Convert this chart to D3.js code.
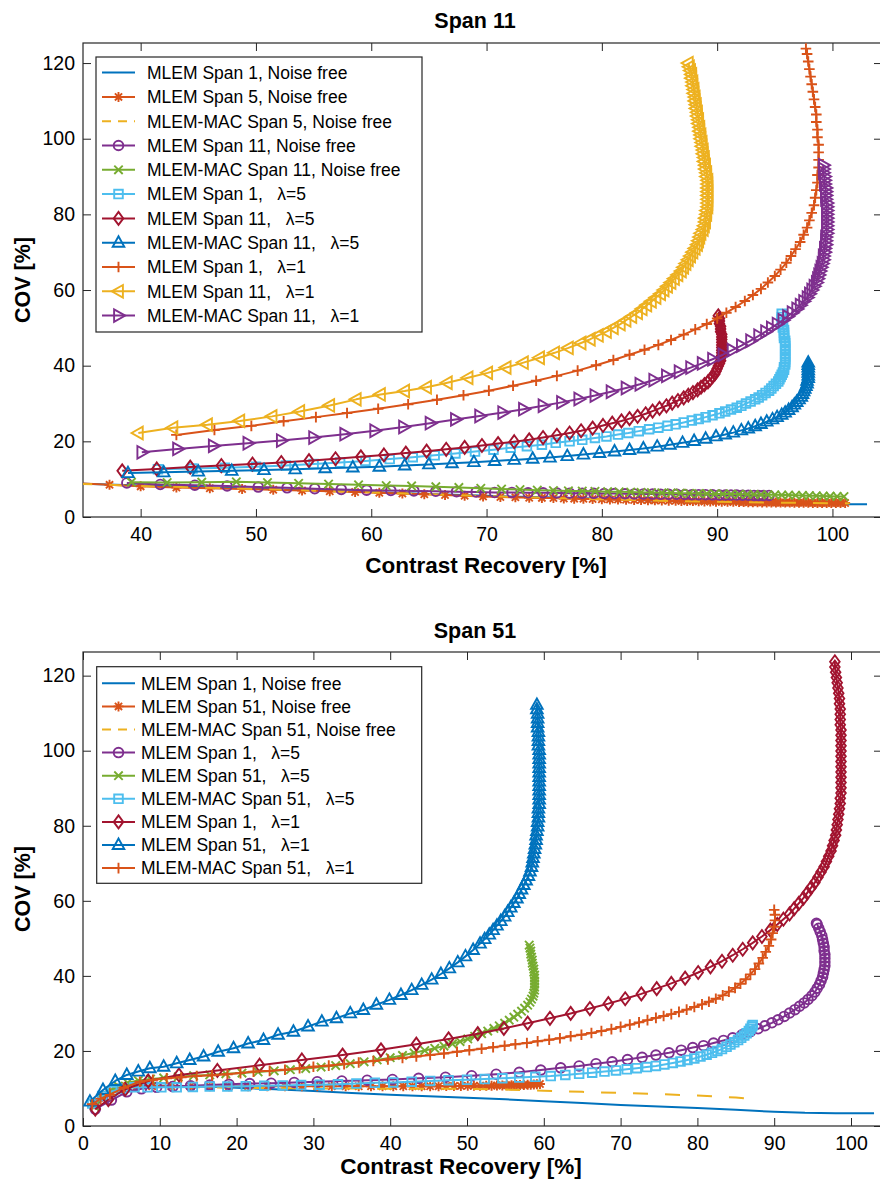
<!DOCTYPE html>
<html>
<head>
<meta charset="utf-8">
<script src="https://cdn.jsdelivr.net/npm/d3@7"></script>
<style>
  body { margin: 0; background: #fff; }
  svg text { font-family: "Liberation Sans", Arial, Helvetica, sans-serif; fill: #000; }
</style>
</head>
<body>
<svg id="chart" width="880" height="1191"></svg>
<script>
// ---------- tick values ----------
const span11XTicks = [40, 50, 60, 70, 80, 90, 100];
const span51XTicks = [0, 10, 20, 30, 40, 50, 60, 70, 80, 90, 100];
const covTicks = [0, 20, 40, 60, 80, 100, 120];

// ---------- legend labels ----------
const span11Labels = [
  "MLEM Span 1, Noise free",
  "MLEM Span 5, Noise free",
  "MLEM-MAC Span 5, Noise free",
  "MLEM Span 11, Noise free",
  "MLEM-MAC Span 11, Noise free",
  "MLEM Span 1,   \u03bb=5",
  "MLEM Span 11,   \u03bb=5",
  "MLEM-MAC Span 11,   \u03bb=5",
  "MLEM Span 1,   \u03bb=1",
  "MLEM Span 11,   \u03bb=1",
  "MLEM-MAC Span 11,   \u03bb=1"
];
const span51Labels = [
  "MLEM Span 1, Noise free",
  "MLEM Span 51, Noise free",
  "MLEM-MAC Span 51, Noise free",
  "MLEM Span 1,   \u03bb=5",
  "MLEM Span 51,   \u03bb=5",
  "MLEM-MAC Span 51,   \u03bb=5",
  "MLEM Span 1,   \u03bb=1",
  "MLEM Span 51,   \u03bb=1",
  "MLEM-MAC Span 51,   \u03bb=1"
];

// ---------- curves: [contrast recovery %, COV %], one point per iteration ----------
const mlemSpan1NoiseFree = [[1.5,5],[2.5,7.2],[3.5,8.7],[4.5,9.7],[5.5,10.3],[7,10.7],[9,10.8],[12,10.7],[16,10.5],[20,10.2],[25,9.8],[30,9.3],[35,8.8],[40,8.3],[45,7.9],[50,7.5],[55,7.1],[60,6.6],[65,6.1],[70,5.6],[75,5.2],[80,4.8],[85,4.3],[90,3.8],[94,3.5],[98,3.4],[103,3.4]];

const s11MlemSpan5NoiseFree = [[34.5,8.9],[37.3,8.5],[40,8.1],[43.1,7.8],[46,7.6],[48.8,7.4],[51.5,7.2],[54,7],[56.4,6.8],[58.6,6.6],[60.7,6.4],[62.7,6.2],[64.6,6],[66.4,5.8],[68.1,5.6],[69.7,5.4],[71.2,5.3],[72.5,5.2],[73.7,5.1],[74.8,5.05],[75.8,5],[76.7,4.9],[77.6,4.85],[78.4,4.8],[79.2,4.75],[80,4.7],[80.7,4.65],[81.4,4.6],[82.1,4.55],[82.8,4.5],[83.4,4.5],[84,4.45],[84.6,4.4],[85.2,4.35],[85.8,4.3],[86.4,4.3],[86.9,4.25],[87.4,4.2],[87.9,4.2],[88.4,4.15],[88.9,4.1],[89.4,4.1],[89.9,4.05],[90.4,4.05],[90.9,4],[91.4,4],[91.9,3.95],[92.3,3.95],[92.7,3.9],[93.1,3.9],[93.5,3.9],[93.9,3.85],[94.3,3.85],[94.7,3.85],[95.1,3.8],[95.5,3.8],[95.9,3.8],[96.3,3.8],[96.7,3.75],[97.1,3.75],[97.5,3.75],[97.9,3.75],[98.3,3.7],[98.7,3.7],[99.1,3.7],[99.5,3.7],[99.9,3.7],[100.3,3.7],[100.7,3.7],[101.1,3.7]];
const s11MacSpan5NoiseFree = [[34.5,8.8],[40,8.2],[45,7.8],[50,7.4],[55,7],[60,6.5],[65,6],[70,5.5],[75,5.1],[80,4.7],[85,4.3],[90,4],[95,3.8],[101.5,3.6]];
const s11MlemSpan11NoiseFree = [[38.8,9],[41.7,8.6],[44.7,8.4],[47.5,8.2],[50.2,7.9],[52.7,7.7],[55.1,7.5],[57.4,7.3],[59.6,7.1],[61.7,7],[63.7,6.9],[65.6,6.8],[67.4,6.7],[69.1,6.6],[70.7,6.5],[72.2,6.5],[73.6,6.4],[74.9,6.4],[76.1,6.35],[77.2,6.3],[78.3,6.3],[79.3,6.25],[80.2,6.2],[81.1,6.2],[82,6.15],[82.8,6.1],[83.6,6.1],[84.4,6.05],[85.1,6],[85.8,6],[86.5,6],[87.2,5.95],[87.8,5.9],[88.4,5.9],[89,5.9],[89.6,5.85],[90.2,5.8],[90.7,5.8],[91.2,5.8],[91.7,5.8],[92.2,5.75],[92.7,5.75],[93.2,5.7],[93.6,5.7],[94,5.7],[94.5,5.7]];
const s11MacSpan11NoiseFree = [[39.2,9.2],[42.3,9.1],[45.3,9.2],[48.3,9.3],[51,9.1],[53.7,8.9],[56.3,8.7],[58.9,8.5],[61.3,8.3],[63.5,8.2],[65.6,8],[67.6,7.8],[69.5,7.6],[71.3,7.4],[72.9,7.25],[74.4,7.1],[75.8,7],[77.1,6.9],[78.3,6.85],[79.4,6.8],[80.5,6.7],[81.5,6.65],[82.5,6.6],[83.4,6.5],[84.3,6.45],[85.2,6.4],[86,6.35],[86.8,6.3],[87.6,6.25],[88.4,6.2],[89.1,6.15],[89.8,6.1],[90.5,6.1],[91.2,6.05],[91.9,6],[92.6,6],[93.2,5.95],[93.8,5.9],[94.4,5.9],[95,5.85],[95.6,5.8],[96.2,5.8],[96.8,5.75],[97.4,5.7],[98,5.65],[98.6,5.6],[99.2,5.55],[99.8,5.5],[100.4,5.45],[101,5.4]];
const s11MlemSpan1Lambda5 = [[41.5,12.6],[44.5,12.8],[47.3,13],[50,13.3],[52.6,13.6],[55,14],[57.3,14.4],[59.5,14.8],[61.6,15.3],[63.6,15.8],[65.5,16.3],[67.3,16.8],[69,17.3],[70.6,17.8],[72.1,18.3],[73.5,18.7],[74.8,19.1],[76,19.6],[77.2,20],[78.3,20.4],[79.4,20.9],[80.4,21.3],[81.4,21.8],[82.3,22.2],[83.2,22.7],[84.1,23.2],[84.9,23.6],[85.7,24.1],[86.4,24.5],[87.1,25],[87.8,25.5],[88.4,25.9],[89,26.4],[89.6,26.9],[90.2,27.4],[90.7,27.9],[91.2,28.4],[91.7,28.9],[92.1,29.4],[92.5,30],[92.9,30.5],[93.3,31.1],[93.6,31.6],[93.9,32.2],[94.2,32.8],[94.5,33.4],[94.7,34],[94.9,34.6],[95.1,35.2],[95.3,35.8],[95.4,36.4],[95.5,37],[95.6,37.6],[95.7,38.2],[95.8,38.9],[95.8,39.6],[95.9,40.3],[95.9,41],[95.9,41.7],[95.9,42.4],[95.9,43.1],[95.9,43.8],[95.9,44.5],[95.9,45.2],[95.9,45.9],[95.9,46.6],[95.8,47.3],[95.8,48],[95.8,48.7],[95.8,49.4],[95.7,50.1],[95.7,50.8],[95.7,51.5],[95.6,52.2],[95.6,52.9],[95.6,53.7]];
const s11MlemSpan11Lambda5 = [[38.4,12.2],[41.4,12.7],[44.3,13.2],[47,13.6],[49.7,14],[52.2,14.4],[54.6,14.9],[56.9,15.4],[59.1,15.9],[61.1,16.4],[63,16.9],[64.8,17.4],[66.5,17.9],[68.1,18.4],[69.6,18.9],[71,19.4],[72.4,19.9],[73.7,20.4],[74.9,21],[76.1,21.6],[77.2,22.2],[78.2,22.8],[79.2,23.5],[80.1,24.2],[80.9,24.8],[81.7,25.4],[82.4,26],[83.1,26.6],[83.8,27.3],[84.4,28],[85,28.7],[85.6,29.4],[86.1,30.1],[86.6,30.8],[87.1,31.5],[87.5,32.2],[87.9,32.9],[88.3,33.6],[88.6,34.3],[88.9,35],[89.2,35.7],[89.4,36.4],[89.6,37.1],[89.8,37.8],[89.9,38.5],[90,39.2],[90.1,39.9],[90.2,40.6],[90.3,41.3],[90.3,42],[90.4,42.7],[90.4,43.4],[90.4,44.1],[90.4,44.8],[90.4,45.5],[90.4,46.2],[90.4,46.9],[90.4,47.6],[90.4,48.3],[90.3,49],[90.3,49.7],[90.3,50.4],[90.2,51.1],[90.2,51.8],[90.2,52.5],[90.1,53.2]];
const s11MacSpan11Lambda5 = [[38.9,11.6],[42,11.8],[45,12],[47.9,12.2],[50.7,12.4],[53.4,12.6],[56,12.9],[58.4,13.1],[60.7,13.3],[62.9,13.6],[65,13.9],[67,14.2],[68.9,14.5],[70.7,14.8],[72.4,15.1],[74,15.4],[75.5,15.7],[77,16.1],[78.4,16.5],[79.8,16.9],[81.1,17.3],[82.4,17.7],[83.6,18.1],[84.8,18.6],[85.9,19.1],[87,19.6],[88,20.1],[89,20.7],[89.9,21.3],[90.7,21.8],[91.4,22.3],[92.1,22.9],[92.7,23.4],[93.3,24],[93.8,24.6],[94.3,25.2],[94.8,25.8],[95.2,26.4],[95.6,27],[95.9,27.6],[96.2,28.3],[96.5,29],[96.7,29.7],[96.9,30.4],[97.1,31.1],[97.3,31.8],[97.4,32.5],[97.5,33.2],[97.6,33.9],[97.7,34.6],[97.8,35.3],[97.8,36],[97.9,36.7],[97.9,37.4],[97.9,38.1],[97.9,38.8],[97.9,39.5],[97.9,40.2],[97.9,40.8]];
const s11MlemSpan1Lambda1 = [[43.1,21.7],[46.4,23],[49.6,24.1],[52.4,25.3],[55.2,26.4],[57.9,27.5],[60.6,28.6],[63.2,29.8],[65.7,31],[68,32.2],[70.2,33.4],[72.3,34.7],[74.3,36],[76.1,37.3],[77.9,38.7],[79.5,40.1],[81,41.5],[82.4,42.9],[83.7,44.2],[84.9,45.5],[86,46.8],[87.1,48.2],[88.1,49.6],[89.1,51],[90,52.5],[90.8,54],[91.6,55.5],[92.4,57.1],[93.1,58.7],[93.8,60.3],[94.4,62],[95,63.7],[95.5,65.4],[96,67.2],[96.4,69],[96.8,70.8],[97.2,72.7],[97.5,74.6],[97.8,76.5],[98,78.4],[98.2,80.4],[98.4,82.4],[98.5,84.4],[98.6,86.4],[98.7,88.4],[98.7,90.4],[98.8,92.4],[98.8,94.4],[98.8,96.4],[98.8,98.4],[98.7,100.4],[98.7,102.4],[98.6,104.4],[98.6,106.4],[98.5,108.4],[98.4,110.4],[98.3,112.4],[98.2,114.4],[98.1,116.4],[98,118.4],[97.9,120.4],[97.8,122.4],[97.7,123.8]];
const s11MlemSpan11Lambda1 = [[39.8,22.2],[42.8,23.6],[45.8,24.4],[48.6,25.4],[51.4,26.6],[53.8,27.9],[56.4,29.5],[58.7,31.1],[60.8,32.4],[62.9,33.3],[64.8,34.3],[66.6,35.5],[68.4,36.8],[70.1,38.1],[71.7,39.5],[73.2,40.8],[74.6,42.1],[75.9,43.4],[77.1,44.7],[78.2,46],[79,47],[79.7,48],[80.4,49],[81,50],[81.6,51],[82.1,52],[82.6,53],[83.1,54],[83.5,55],[83.9,56],[84.3,57],[84.7,58],[85.1,59],[85.4,60],[85.7,61],[86,62],[86.3,63],[86.6,64],[86.9,65],[87.1,66],[87.3,67],[87.5,68],[87.7,69],[87.9,70],[88.1,71],[88.3,72],[88.4,73],[88.5,74],[88.6,75],[88.8,76],[88.9,77],[89,78],[89,79],[89.1,80],[89.1,81],[89.2,82],[89.2,83],[89.2,84],[89.2,85],[89.2,86],[89.2,87],[89.2,88],[89.2,89],[89.1,90],[89.1,91],[89,92],[89,93],[88.9,94],[88.9,95],[88.8,96],[88.8,97],[88.7,98],[88.7,99],[88.6,100],[88.6,101],[88.5,102],[88.5,103],[88.4,104],[88.4,105],[88.3,106],[88.3,107],[88.2,108],[88.2,109],[88.1,110],[88.1,111],[88,112],[88,113],[87.9,114],[87.9,115],[87.8,116],[87.8,117],[87.7,118],[87.6,119],[87.5,120]];
const s11MacSpan11Lambda1 = [[40.1,17.1],[43.2,18],[46.3,18.8],[49.3,19.5],[52.2,20.2],[55,21],[57.7,21.9],[60.3,22.8],[62.8,23.8],[65.1,24.8],[67.3,25.8],[69.4,26.7],[71.4,27.6],[73.2,28.5],[74.9,29.4],[76.5,30.3],[78,31.2],[79.4,32.1],[80.8,33.1],[82.1,34.1],[83.3,35.1],[84.5,36.2],[85.6,37.3],[86.7,38.4],[87.7,39.5],[88.7,40.6],[89.6,41.7],[90.5,42.9],[91.3,44.1],[92.1,45.3],[92.9,46.6],[93.6,47.9],[94.2,49],[94.7,50],[95.2,51],[95.7,52],[96.1,53],[96.5,54],[96.9,55],[97.2,56],[97.5,57],[97.8,58],[98,59],[98.2,60],[98.4,61],[98.6,62],[98.7,63],[98.8,64],[98.9,65],[99,66],[99.1,67],[99.2,68],[99.2,69],[99.3,70],[99.3,71],[99.4,72],[99.4,73],[99.4,74],[99.5,75],[99.5,76],[99.5,77],[99.5,78],[99.5,79],[99.5,80],[99.5,81],[99.5,82],[99.5,83],[99.4,84],[99.4,85],[99.4,86],[99.4,87],[99.3,88],[99.3,89],[99.3,90],[99.2,91],[99.2,92],[99.2,93]];

const s51MlemSpan51NoiseFree = [[1.5,5.8],[2.5,7.8],[3.5,9.2],[4.5,10],[5.5,10.4],[7,10.6],[9,10.6],[11.5,10.6],[14,10.6],[16.5,10.6],[19,10.6],[21.5,10.6],[24,10.6],[26.3,10.6],[28.5,10.6],[30.5,10.6],[32.4,10.6],[34.2,10.6],[35.9,10.6],[37.5,10.6],[39,10.6],[40.4,10.6],[41.7,10.6],[42.9,10.6],[44.1,10.6],[45.2,10.6],[46.3,10.6],[47.3,10.65],[48.3,10.65],[49.2,10.65],[50.1,10.7],[50.9,10.7],[51.7,10.7],[52.5,10.75],[53.2,10.75],[53.9,10.8],[54.6,10.8],[55.2,10.85],[55.8,10.85],[56.4,10.9],[56.9,10.9],[57.4,10.95],[57.9,11],[58.3,11],[58.7,11.05],[59.1,11.1],[59.5,11.2]];
const s51MacSpan51NoiseFree = [[1.5,5.6],[2.5,7.6],[3.5,9],[4.5,9.8],[5.5,10.2],[7,10.4],[10,10.4],[15,10.3],[20,10.2],[25,10.1],[30,10],[35,10],[40,9.9],[45,9.9],[50,9.9],[55,9.7],[60,9.4],[65,9.1],[70,8.8],[75,8.5],[80,8.1],[85,7.6],[87.3,7.2]];
const s51MlemSpan1Lambda5 = [[1.6,4.5],[3.7,6.9],[5.7,9.1],[7.6,9.9],[9.6,10.3],[11.7,10.5],[14,10.7],[16.5,10.9],[19,11.1],[21.7,11.3],[24.5,11.4],[27.5,11.6],[30.5,11.8],[33.7,12],[37,12.2],[40.3,12.4],[43.7,12.7],[47.2,13],[50.6,13.4],[53.8,13.8],[56.8,14.3],[59.6,14.9],[62.2,15.5],[64.6,16],[66.8,16.6],[68.9,17.1],[70.9,17.7],[72.8,18.3],[74.6,18.9],[76.3,19.5],[77.9,20.2],[79.4,20.9],[80.8,21.4],[82.1,22.1],[83.4,22.8],[84.6,23.5],[85.8,24.3],[86.9,25.1],[87.9,25.9],[88.8,26.7],[89.7,27.5],[90.5,28.3],[91.3,29.2],[92,30.1],[92.7,31],[93.3,31.9],[93.9,32.8],[94.4,33.7],[94.9,34.7],[95.3,35.7],[95.6,36.7],[95.9,37.7],[96.1,38.7],[96.3,39.7],[96.4,40.7],[96.5,41.7],[96.6,42.7],[96.6,43.7],[96.6,44.7],[96.6,45.7],[96.5,46.7],[96.5,47.7],[96.4,48.7],[96.3,49.7],[96.2,50.7],[96,51.7],[95.8,52.7],[95.6,53.7],[95.5,54]];
const s51MlemSpan51Lambda5 = [[1.5,5.2],[2.5,7.5],[3.5,9.3],[4.6,10.6],[5.8,11.5],[7.2,12.1],[8.8,12.5],[10.5,12.8],[12.4,13.1],[14.4,13.4],[16.5,13.6],[18.6,13.9],[20.7,14.1],[22.8,14.4],[24.9,14.7],[27,15],[29,15.3],[31,15.7],[32.9,16.1],[34.8,16.6],[36.6,17.1],[38.3,17.6],[40,18.2],[41.6,18.8],[43.1,19.5],[44.5,20.1],[45.8,20.7],[47,21.3],[48.1,21.9],[49.1,22.5],[50.1,23.2],[51,23.9],[51.9,24.6],[52.7,25.3],[53.5,26],[54.2,26.7],[54.9,27.4],[55.5,28.2],[56.1,29],[56.6,29.8],[57.1,30.6],[57.5,31.4],[57.9,32.2],[58.2,33],[58.4,33.8],[58.6,34.6],[58.7,35.4],[58.8,36.2],[58.8,37],[58.8,37.8],[58.8,38.6],[58.8,39.4],[58.8,40.2],[58.7,41],[58.7,41.8],[58.6,42.6],[58.5,43.4],[58.5,44.2],[58.4,45],[58.3,45.8],[58.3,46.6],[58.2,47.4],[58.1,48.2]];
const s51MacSpan51Lambda5 = [[1.2,6],[2.5,8],[3.8,9.3],[5.2,10],[6.7,10.3],[8.4,10.3],[10.2,10.3],[12.2,10.3],[14.3,10.4],[16.5,10.5],[18.8,10.5],[21.2,10.6],[23.6,10.7],[26,10.8],[28.4,10.9],[30.8,11],[33.2,11.1],[35.6,11.3],[38,11.5],[40.4,11.6],[42.8,11.8],[45.2,12],[47.6,12.2],[50,12.3],[52.3,12.5],[54.6,12.7],[56.8,12.9],[58.9,13.1],[60.9,13.3],[62.8,13.6],[64.6,13.9],[66.3,14.2],[67.9,14.5],[69.4,14.8],[70.8,15.1],[72.1,15.4],[73.4,15.7],[74.6,16],[75.7,16.4],[76.8,16.8],[77.8,17.2],[78.7,17.6],[79.6,18],[80.4,18.5],[81.2,19],[81.9,19.5],[82.6,20],[83.2,20.5],[83.8,21.1],[84.3,21.7],[84.8,22.3],[85.3,22.9],[85.7,23.5],[86.1,24.1],[86.4,24.7],[86.7,25.3],[86.9,25.9],[87.1,26.5],[87.2,26.9]];
const s51MlemSpan1Lambda1 = [[1.6,4.5],[3.3,7],[5.5,9.8],[8.5,12],[12.5,13.6],[17.5,14.8],[23,16.2],[28.5,17.6],[33.8,18.9],[38.8,20.3],[43.4,21.8],[47.6,23.2],[51.4,24.6],[54.8,26],[57.9,27.4],[60.8,28.7],[63.5,30],[66,31.3],[68.4,32.6],[70.6,33.9],[72.7,35.2],[74.7,36.6],[76.6,38],[78.4,39.4],[80.1,40.9],[81.7,42.4],[83.2,43.9],[84.6,45.5],[85.9,47.1],[87.2,48.8],[88.4,50.5],[89.5,52.2],[90.4,53.7],[91.2,55.1],[92,56.5],[92.6,57.9],[93.2,59.3],[93.8,60.7],[94.3,62.1],[94.8,63.5],[95.3,64.9],[95.7,66.3],[96.1,67.7],[96.5,69.1],[96.8,70.5],[97.1,71.9],[97.4,73.3],[97.6,74.7],[97.8,76.1],[98,77.5],[98.1,78.9],[98.2,80.3],[98.3,81.7],[98.4,83.1],[98.5,84.5],[98.6,85.9],[98.6,87.3],[98.7,88.7],[98.7,90.1],[98.7,91.5],[98.7,92.9],[98.7,94.3],[98.7,95.7],[98.7,97.1],[98.7,98.5],[98.7,99.9],[98.7,101.3],[98.7,102.7],[98.7,104.1],[98.7,105.5],[98.6,106.9],[98.6,108.3],[98.6,109.7],[98.6,111.1],[98.5,112.5],[98.5,113.9],[98.4,115.3],[98.3,116.7],[98.2,118.1],[98.1,119.5],[98,120.9],[97.9,122.3],[97.9,123.7]];
const s51MlemSpan51Lambda1 = [[0.9,6.5],[2.6,9.6],[4.2,12],[5.7,13.6],[7.2,14.5],[8.7,15.4],[10.5,15.8],[12.2,16.7],[13.9,17.6],[15.7,18.5],[17.6,19.8],[19.6,20.7],[21.5,22],[23.5,22.9],[25.4,24.3],[27.4,25.1],[29.3,26.5],[31.1,27.8],[33,28.7],[34.8,30],[36.5,30.9],[38.2,32.3],[39.9,33.6],[41.4,34.9],[42.8,36.2],[44.1,37.6],[45.4,39],[46.6,40.5],[47.7,42],[48.8,43.6],[49.8,45.2],[50.8,46.9],[51.7,48.6],[52.3,49.8],[52.9,51],[53.4,52.2],[53.9,53.4],[54.4,54.6],[54.9,55.8],[55.3,57],[55.7,58.2],[56.1,59.4],[56.5,60.6],[56.8,61.8],[57.1,63],[57.4,64.2],[57.7,65.4],[58,66.6],[58.2,67.8],[58.4,69],[58.5,70.2],[58.6,71.4],[58.7,72.6],[58.8,73.8],[58.9,75],[59,76.2],[59,77.4],[59.1,78.6],[59.2,79.8],[59.2,81],[59.3,82.2],[59.3,83.4],[59.3,84.6],[59.4,85.8],[59.4,87],[59.4,88.2],[59.4,89.4],[59.4,90.6],[59.4,91.8],[59.4,93],[59.4,94.2],[59.4,95.4],[59.4,96.6],[59.4,97.8],[59.4,99],[59.4,100.2],[59.3,101.4],[59.3,102.6],[59.3,103.8],[59.3,105],[59.2,106.2],[59.2,107.4],[59.2,108.6],[59.2,109.8],[59.1,111],[59.1,112.2]];
const s51MacSpan51Lambda1 = [[1.2,5.8],[2.3,7.3],[3.5,8.3],[5.3,10.2],[7.4,11.8],[9.1,12.3],[10.9,12.7],[12.8,13],[14.8,13.3],[16.8,13.5],[18.8,13.8],[20.5,14.1],[22.2,14.5],[24.3,14.7],[26.3,15],[28.2,15.4],[30,15.8],[32,16.1],[34,16.5],[35.9,16.9],[37.8,17.3],[39.7,17.7],[41.6,18.1],[43.4,18.5],[45.2,18.9],[47,19.3],[48.7,19.8],[50.3,20.2],[51.9,20.6],[53.4,21],[54.9,21.4],[56.3,21.8],[57.8,22.1],[59.2,22.6],[60.7,23],[62.1,23.4],[63.5,23.9],[64.9,24.3],[66.2,24.8],[67.5,25.3],[68.8,25.8],[70,26.4],[71.2,27],[72.4,27.6],[73.5,28.2],[74.6,28.8],[75.6,29.3],[76.6,29.8],[77.6,30.4],[78.6,31],[79.6,31.7],[80.6,32.4],[81.5,33.1],[82.4,33.9],[83.3,34.8],[84.1,35.8],[84.9,36.8],[85.6,37.9],[86.3,39.1],[86.9,40.4],[87.5,41.8],[88,43.3],[88.5,44.8],[88.9,46.4],[89.3,48],[89.6,49.7],[89.8,51.4],[90,53.1],[90.1,54.8],[90.1,56.3],[90,57.6]];

// ---------- drawing styles ----------
const palette = ["#0072BD", "#D95319", "#EDB120", "#7E2F8E", "#77AC30", "#4DBEEE", "#A2142F"];
const font = '"Liberation Sans", Arial, Helvetica, sans-serif';

// Unfilled marker outlines, centred on the point
const markerPaths = {
  "o": "M4.8,0A4.8,4.8 0 1,1 -4.8,0A4.8,4.8 0 1,1 4.8,0Z",
  "s": "M-4.3,-4.3H4.3V4.3H-4.3Z",
  "d": "M0,-6.5L4.8,0L0,6.5L-4.8,0Z",
  "^": "M0,-6.5L5.8,4L-5.8,4Z",
  "<": "M-6.8,0L4.4,-6.3L4.4,6.3Z",
  ">": "M6.8,0L-4.4,-6.3L-4.4,6.3Z",
  "+": "M-5.3,0H5.3M0,-5.3V5.3",
  "x": "M-4.2,-4.2L4.2,4.2M-4.2,4.2L4.2,-4.2",
  "*": "M-5,0H5M0,-5V5M-3.6,-3.6L3.6,3.6M-3.6,3.6L3.6,-3.6"
};

const svg = d3.select("#chart");

function drawPanel(cfg) {
  const x = d3.scaleLinear().domain(cfg.xDomain).range([cfg.left, cfg.right]);
  const y = d3.scaleLinear().domain(cfg.yDomain).range([cfg.bottom, cfg.top]);
  const g = svg.append("g");

  const clipId = cfg.id + "-clip";
  svg.append("defs").append("clipPath").attr("id", clipId)
    .append("rect")
    .attr("x", cfg.left).attr("y", cfg.top)
    .attr("width", cfg.right - cfg.left).attr("height", cfg.bottom - cfg.top);

  // axes with inward ticks, mirrored on the top and right sides
  const axisColor = "#262626";
  const styleAxis = sel => {
    sel.select(".domain").remove();
    sel.selectAll(".tick line").attr("stroke", axisColor).attr("stroke-width", 1);
    sel.selectAll(".tick text").attr("fill", "#000")
      .style("font-family", font).style("font-size", "19.5px");
  };
  g.append("g").attr("transform", `translate(0,${cfg.bottom})`)
    .call(d3.axisBottom(x).tickValues(cfg.xTicks).tickSize(-8).tickPadding(10))
    .call(styleAxis);
  g.append("g").attr("transform", `translate(0,${cfg.top})`)
    .call(d3.axisTop(x).tickValues(cfg.xTicks).tickSize(-8).tickFormat(""))
    .call(styleAxis);
  g.append("g").attr("transform", `translate(${cfg.left},0)`)
    .call(d3.axisLeft(y).tickValues(covTicks).tickSize(-8).tickPadding(8))
    .call(styleAxis);
  g.append("g").attr("transform", `translate(${cfg.right},0)`)
    .call(d3.axisRight(y).tickValues(covTicks).tickSize(-8).tickFormat(""))
    .call(styleAxis);
  g.append("rect")
    .attr("x", cfg.left).attr("y", cfg.top)
    .attr("width", cfg.right - cfg.left).attr("height", cfg.bottom - cfg.top)
    .attr("fill", "none").attr("stroke", axisColor).attr("stroke-width", 1.2);

  // curves, drawn in series order so later ones sit on top
  const plot = g.append("g").attr("clip-path", `url(#${clipId})`);
  const line = d3.line().x(d => x(d[0])).y(d => y(d[1]));
  cfg.series.forEach(s => {
    const sg = plot.append("g");
    sg.append("path").datum(s.data)
      .attr("d", line)
      .attr("fill", "none")
      .attr("stroke", s.color)
      .attr("stroke-width", 2)
      .attr("stroke-linejoin", "round")
      .attr("stroke-dasharray", s.dash ? "15,17" : null);
    if (s.marker) {
      sg.selectAll("path.mk").data(s.data).join("path")
        .attr("class", "mk")
        .attr("d", markerPaths[s.marker])
        .attr("transform", d => `translate(${x(d[0])},${y(d[1])})`)
        .attr("fill", "none")
        .attr("stroke", s.color)
        .attr("stroke-width", 1.9);
    }
  });

  // legend
  const L = cfg.legend;
  const lg = g.append("g");
  lg.append("rect")
    .attr("x", L.x).attr("y", L.y).attr("width", L.w).attr("height", L.h)
    .attr("fill", "#fff").attr("stroke", axisColor).attr("stroke-width", 1.2);
  cfg.series.forEach((s, i) => {
    const cy = L.row0 + i * L.rowStep;
    lg.append("line")
      .attr("x1", L.lineX0).attr("x2", L.lineX1).attr("y1", cy).attr("y2", cy)
      .attr("stroke", s.color).attr("stroke-width", 2)
      .attr("stroke-dasharray", s.dash ? "9,7" : null);
    if (s.marker) {
      lg.append("path")
        .attr("d", markerPaths[s.marker])
        .attr("transform", `translate(${(L.lineX0 + L.lineX1) / 2},${cy})`)
        .attr("fill", "none").attr("stroke", s.color).attr("stroke-width", 1.9);
    }
    lg.append("text")
      .attr("x", L.textX).attr("y", cy).attr("dy", "0.36em")
      .style("font-size", "17.5px").style("white-space", "pre")
      .text(s.label);
  });

  // titles
  g.append("text")
    .attr("x", cfg.titleX).attr("y", cfg.titleY).attr("dy", "0.36em")
    .attr("text-anchor", "middle")
    .style("font-size", "21.5px").style("font-weight", "bold")
    .text(cfg.title);
  g.append("text")
    .attr("x", cfg.xLabelX).attr("y", cfg.xLabelY).attr("dy", "0.36em")
    .attr("text-anchor", "middle")
    .style("font-size", "22.5px").style("font-weight", "bold")
    .text("Contrast Recovery [%]");
  g.append("text")
    .attr("transform", `translate(${cfg.yLabelX},${cfg.yLabelY}) rotate(-90)`)
    .attr("dy", "0.36em")
    .attr("text-anchor", "middle")
    .style("font-size", "21.5px").style("font-weight", "bold")
    .text("COV [%]");
}

// ---------- Span 11 panel ----------
drawPanel({
  id: "span11",
  left: 83, right: 882, top: 43, bottom: 517,
  xDomain: [35, 35 + (882 - 83) / 11.53], yDomain: [0, 125.3],
  xTicks: span11XTicks,
  title: "Span 11", titleX: 475, titleY: 20,
  xLabelX: 486, xLabelY: 565,
  yLabelX: 22, yLabelY: 280,
  legend: { x: 96, y: 57, w: 326, h: 275, row0: 72.6, rowStep: 24.3, lineX0: 102, lineX1: 135, textX: 147 },
  series: [
    { label: span11Labels[0], data: mlemSpan1NoiseFree, color: palette[0], marker: null },
    { label: span11Labels[1], data: s11MlemSpan5NoiseFree, color: palette[1], marker: "*" },
    { label: span11Labels[2], data: s11MacSpan5NoiseFree, color: palette[2], marker: null, dash: true },
    { label: span11Labels[3], data: s11MlemSpan11NoiseFree, color: palette[3], marker: "o" },
    { label: span11Labels[4], data: s11MacSpan11NoiseFree, color: palette[4], marker: "x" },
    { label: span11Labels[5], data: s11MlemSpan1Lambda5, color: palette[5], marker: "s" },
    { label: span11Labels[6], data: s11MlemSpan11Lambda5, color: palette[6], marker: "d" },
    { label: span11Labels[7], data: s11MacSpan11Lambda5, color: palette[0], marker: "^" },
    { label: span11Labels[8], data: s11MlemSpan1Lambda1, color: palette[1], marker: "+" },
    { label: span11Labels[9], data: s11MlemSpan11Lambda1, color: palette[2], marker: "<" },
    { label: span11Labels[10], data: s11MacSpan11Lambda1, color: palette[3], marker: ">" }
  ]
});

// ---------- Span 51 panel ----------
drawPanel({
  id: "span51",
  left: 83, right: 882, top: 652, bottom: 1126,
  xDomain: [0, (882 - 83) / 7.68], yDomain: [0, 126.3],
  xTicks: span51XTicks,
  title: "Span 51", titleX: 475, titleY: 630,
  xLabelX: 461, xLabelY: 1166,
  yLabelX: 22, yLabelY: 889,
  legend: { x: 96.7, y: 666.7, w: 325, h: 216.6, row0: 683.3, rowStep: 23.1, lineX0: 102, lineX1: 135, textX: 141 },
  series: [
    { label: span51Labels[0], data: mlemSpan1NoiseFree, color: palette[0], marker: null },
    { label: span51Labels[1], data: s51MlemSpan51NoiseFree, color: palette[1], marker: "*" },
    { label: span51Labels[2], data: s51MacSpan51NoiseFree, color: palette[2], marker: null, dash: true },
    { label: span51Labels[3], data: s51MlemSpan1Lambda5, color: palette[3], marker: "o" },
    { label: span51Labels[4], data: s51MlemSpan51Lambda5, color: palette[4], marker: "x" },
    { label: span51Labels[5], data: s51MacSpan51Lambda5, color: palette[5], marker: "s" },
    { label: span51Labels[6], data: s51MlemSpan1Lambda1, color: palette[6], marker: "d" },
    { label: span51Labels[7], data: s51MlemSpan51Lambda1, color: palette[0], marker: "^" },
    { label: span51Labels[8], data: s51MacSpan51Lambda1, color: palette[1], marker: "+" }
  ]
});
</script>
</body>
</html>
